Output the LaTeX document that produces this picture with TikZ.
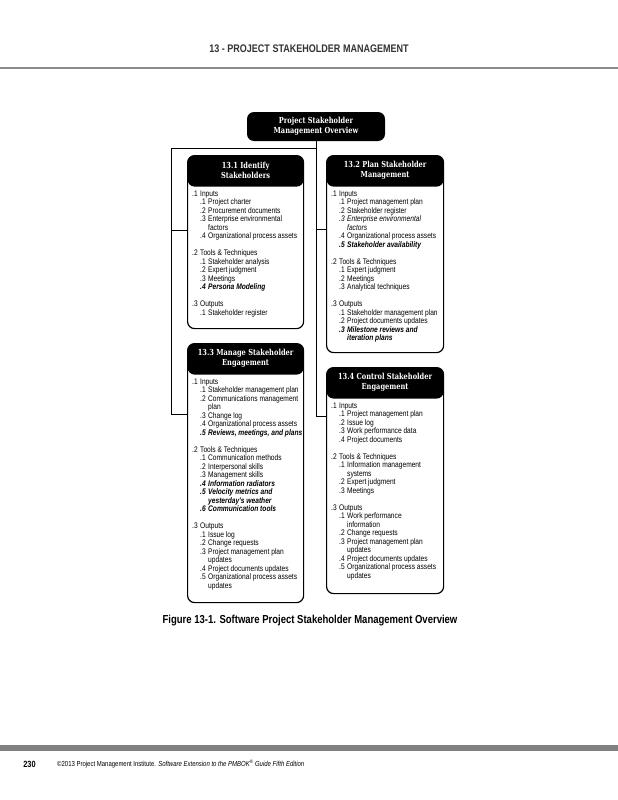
\documentclass[tikz,border=0pt]{standalone}
\usepackage{fontspec}
\setmainfont{Liberation Sans}[FakeStretch=0.82]
\newfontfamily\slabfont{DejaVu Serif}[FakeStretch=0.8]
\usetikzlibrary{positioning}

% list lines inside the process boxes
\newcommand{\grp}[2]{\makebox[8pt][l]{#1}#2}
\newcommand{\itm}[2]{\hspace*{8pt}\makebox[8pt][l]{#1}#2}
\newcommand{\iitm}[2]{\hspace*{8pt}{\itshape\makebox[8pt][l]{#1}#2}}
\newcommand{\bitm}[2]{\hspace*{8pt}{\bfseries\itshape\makebox[8pt][l]{#1}#2}}
\newcommand{\wrp}[1]{\hspace*{16pt}#1}
\newcommand{\iwrp}[1]{\hspace*{16pt}{\itshape #1}}
\newcommand{\bwrp}[1]{\hspace*{16pt}{\bfseries\itshape #1}}
\newcommand{\gap}{\\[8.5pt]}

\begin{document}
\begin{tikzpicture}[
x=1pt, y=-1pt,
overview/.style={fill=black, rounded corners=7pt, minimum width=138pt, minimum height=29pt, inner sep=0pt, text=white, align=center, font=\slabfont\bfseries\fontsize{8.3}{10}\selectfont},
process/.style={draw, line width=1.2pt, rounded corners=7pt, anchor=north west, minimum width=116pt, fill=white,
  path picture={\fill[black] (path picture bounding box.north west) rectangle ([yshift=-31pt]path picture bounding box.north east);}},
ptitle/.style={text=white, inner sep=0pt, align=center, font=\slabfont\bfseries\fontsize{8.3}{10.5}\selectfont},
plist/.style={anchor=north west, inner sep=0pt, align=left, font=\fontsize{8.1}{8.5}\selectfont},
link/.style={line width=0.9pt}
]
\fill[white] (0,0) rectangle (618,800);
\useasboundingbox (0,0) rectangle (618,800);

% page header and footer
\node[text=black!80, font=\bfseries\fontsize{11}{13}\selectfont] (phead) at (309,49) {13 - PROJECT STAKEHOLDER MANAGEMENT};
\draw[black!45, line width=2pt] (0,68) -- (618,68);
\fill[black!50] (0,745) rectangle (618,751);
\node[font=\bfseries\fontsize{9}{11}\selectfont] (pnum) at (29.5,764) {230};
\node[anchor=west, inner sep=0pt, font=\fontsize{7.3}{9}\selectfont] (pfoot) at (57,764) {©2013 Project Management Institute. \textit{Software Extension to the PMBOK\textsuperscript{®} Guide Fifth Edition}};

% root
\node[overview] (ov) at (316,126.5) {Project Stakeholder\\Management Overview};

% connectors
\coordinate (jl) at (171,148);
\draw[link] (ov.south) |- (jl) |- (187,414);
\draw[link] (jl |- 0,230) -- (187,230);
\draw[link] (ov.south) |- (326,416);
\draw[link] (ov.south |- 0,229) -- (326,229);

% process boxes
\node[process, minimum height=173pt] (s1) at (187,155) {};
\node[process, minimum height=197pt, minimum width=117pt] (s2) at (326,155) {};
\node[process, minimum height=259pt] (s3) at (187,343) {};
\node[process, minimum height=226pt, minimum width=117pt] (s4) at (326,367) {};

\node[ptitle] (t1) at ([yshift=-15.5pt]s1.north) {13.1 Identify\\Stakeholders};
\node[ptitle] (t2) at ([yshift=-15.5pt]s2.north) {13.2 Plan Stakeholder\\Management};
\node[ptitle] (t3) at ([yshift=-15.5pt]s3.north) {13.3 Manage Stakeholder\\Engagement};
\node[ptitle] (t4) at ([yshift=-15.5pt]s4.north) {13.4 Control Stakeholder\\Engagement};

\node[plist] (l1) at ([xshift=5pt, yshift=-35.5pt]s1.north west) {%
\grp{.1}{Inputs}\\
\itm{.1}{Project charter}\\
\itm{.2}{Procurement documents}\\
\itm{.3}{Enterprise environmental}\\
\wrp{factors}\\
\itm{.4}{Organizational process assets}\gap
\grp{.2}{Tools \& Techniques}\\
\itm{.1}{Stakeholder analysis}\\
\itm{.2}{Expert judgment}\\
\itm{.3}{Meetings}\\
\bitm{.4}{Persona Modeling}\gap
\grp{.3}{Outputs}\\
\itm{.1}{Stakeholder register}};

\node[plist] (l2) at ([xshift=5pt, yshift=-35.5pt]s2.north west) {%
\grp{.1}{Inputs}\\
\itm{.1}{Project management plan}\\
\itm{.2}{Stakeholder register}\\
\iitm{.3}{Enterprise environmental}\\
\iwrp{factors}\\
\itm{.4}{Organizational process assets}\\
\bitm{.5}{Stakeholder availability}\gap
\grp{.2}{Tools \& Techniques}\\
\itm{.1}{Expert judgment}\\
\itm{.2}{Meetings}\\
\itm{.3}{Analytical techniques}\gap
\grp{.3}{Outputs}\\
\itm{.1}{Stakeholder management plan}\\
\itm{.2}{Project documents updates}\\
\bitm{.3}{Milestone reviews and}\\
\bwrp{iteration plans}};

\node[plist] (l3) at ([xshift=5pt, yshift=-35.5pt]s3.north west) {%
\grp{.1}{Inputs}\\
\itm{.1}{Stakeholder management plan}\\
\itm{.2}{Communications management}\\
\wrp{plan}\\
\itm{.3}{Change log}\\
\itm{.4}{Organizational process assets}\\
\bitm{.5}{Reviews, meetings, and plans}\gap
\grp{.2}{Tools \& Techniques}\\
\itm{.1}{Communication methods}\\
\itm{.2}{Interpersonal skills}\\
\itm{.3}{Management skills}\\
\bitm{.4}{Information radiators}\\
\bitm{.5}{Velocity metrics and}\\
\bwrp{yesterday's weather}\\
\bitm{.6}{Communication tools}\gap
\grp{.3}{Outputs}\\
\itm{.1}{Issue log}\\
\itm{.2}{Change requests}\\
\itm{.3}{Project management plan}\\
\wrp{updates}\\
\itm{.4}{Project documents updates}\\
\itm{.5}{Organizational process assets}\\
\wrp{updates}};

\node[plist] (l4) at ([xshift=5pt, yshift=-35.5pt]s4.north west) {%
\grp{.1}{Inputs}\\
\itm{.1}{Project management plan}\\
\itm{.2}{Issue log}\\
\itm{.3}{Work performance data}\\
\itm{.4}{Project documents}\gap
\grp{.2}{Tools \& Techniques}\\
\itm{.1}{Information management}\\
\wrp{systems}\\
\itm{.2}{Expert judgment}\\
\itm{.3}{Meetings}\gap
\grp{.3}{Outputs}\\
\itm{.1}{Work performance}\\
\wrp{information}\\
\itm{.2}{Change requests}\\
\itm{.3}{Project management plan}\\
\wrp{updates}\\
\itm{.4}{Project documents updates}\\
\itm{.5}{Organizational process assets}\\
\wrp{updates}};

% caption
\node[font=\bfseries\fontsize{11.6}{14}\selectfont] (cap) at (310,621) {Figure 13-1. Software Project Stakeholder Management Overview};
\end{tikzpicture}
\end{document}
